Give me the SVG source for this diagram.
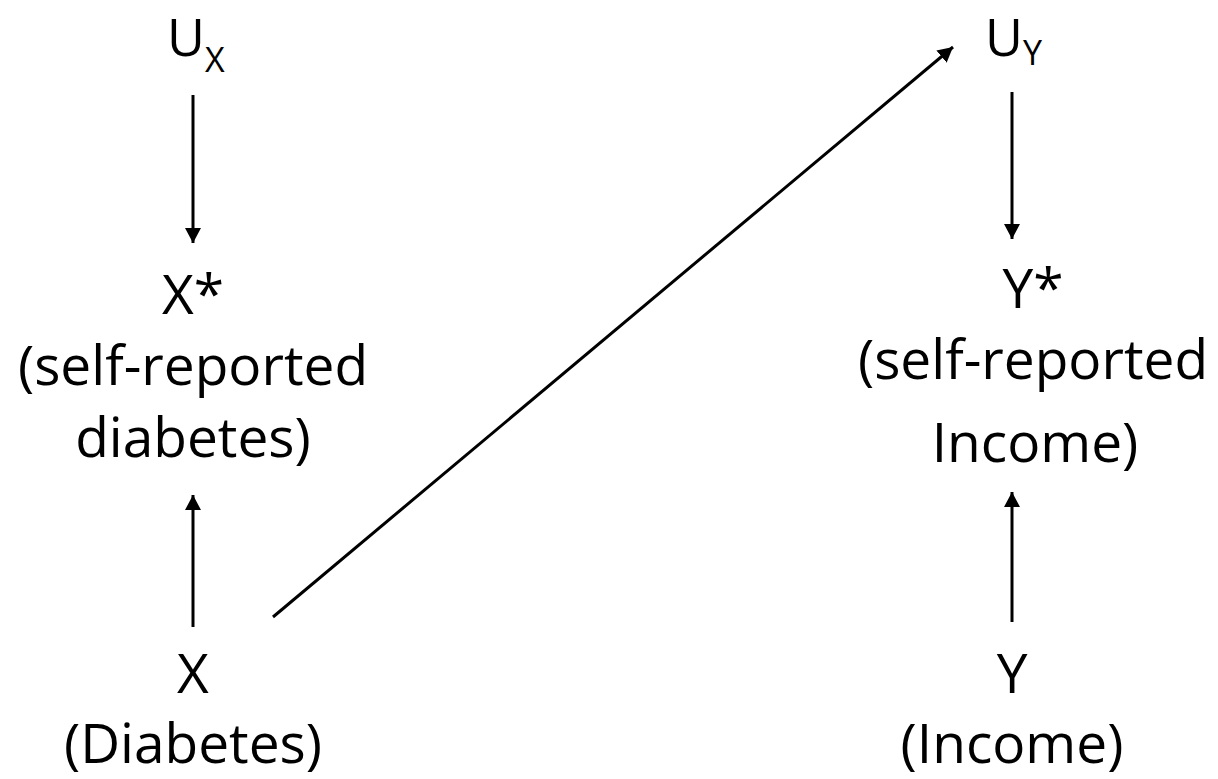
<svg xmlns="http://www.w3.org/2000/svg" width="1218" height="779" viewBox="0 0 1218 779">
<style>
.t{font-family:"Open Sans","Noto Sans",sans-serif;font-size:55px;fill:#000;text-anchor:middle}
.u{font-family:"Open Sans","Noto Sans",sans-serif;font-size:52px;fill:#000}
.s{font-size:34px}
.c{stroke:#000;stroke-width:3;fill:none;marker-end:url(#ah)}
</style>
<defs>
<marker id="ah" markerUnits="userSpaceOnUse" viewBox="0 0 15 16" refX="15" refY="8" markerWidth="15" markerHeight="16" orient="auto">
<path d="M0,0 L15,8 L0,16 Z" fill="#000"/>
</marker>
</defs>
<rect width="1218" height="779" fill="#fff"/>
<g id="connectors">
<line class="c" x1="193" y1="95" x2="193" y2="243"/>
<line class="c" x1="193" y1="627" x2="193" y2="495"/>
<line class="c" x1="273" y1="617" x2="953" y2="47"/>
<line class="c" x1="1012" y1="92" x2="1012" y2="239"/>
<line class="c" x1="1012" y1="622" x2="1012" y2="492"/>
</g>
<g id="node-ux"><text class="u" x="167" y="56">U<tspan class="s" dy="16">X</tspan></text></g>
<g id="node-uy"><text class="u" x="985" y="56">U<tspan class="s" dy="9">Y</tspan></text></g>
<g id="node-xstar"><text class="t" x="193" y="314">X*</text><text class="t" x="193" y="385">(self-reported</text><text class="t" x="193" y="457">diabetes)</text></g>
<g id="node-ystar"><text class="t" x="1033" y="308">Y*</text><text class="t" x="1033" y="379">(self-reported</text><text class="t" x="1035" y="462">Income)</text></g>
<g id="node-x"><text class="t" x="193" y="693">X</text><text class="t" x="193" y="763">(Diabetes)</text></g>
<g id="node-y"><text class="t" x="1012" y="693">Y</text><text class="t" x="1012" y="763">(Income)</text></g>
</svg>
